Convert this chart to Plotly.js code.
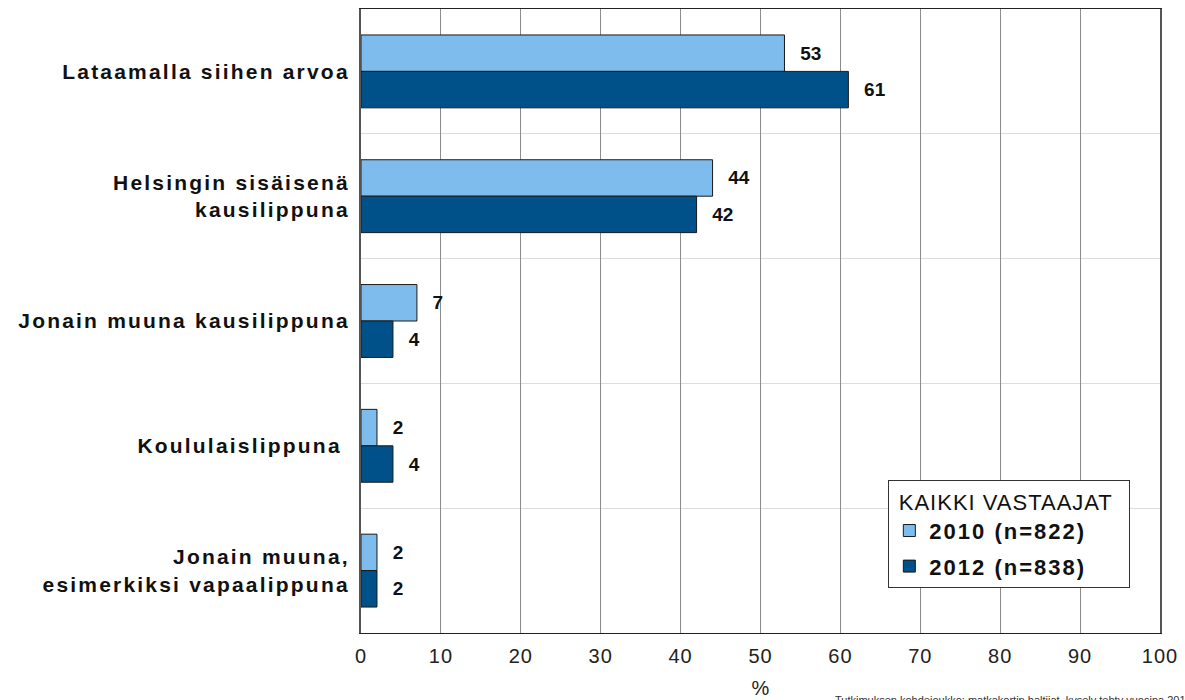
<!DOCTYPE html>
<html>
<head>
<meta charset="utf-8">
<script src="https://cdn.plot.ly/plotly-3.0.1.min.js"></script>
<style>
html,body{margin:0;padding:0;background:#fff;}
#chart{width:1185px;height:700px;}
g.ytick text{letter-spacing:2.2px;}
g.xtick text{letter-spacing:1px;}
text.legendtext{letter-spacing:2px;}
text.legendtitletext{letter-spacing:1px;}
</style>
</head>
<body>
<div id="chart"></div>
<script>
var categories = ["Lataamalla siihen arvoa", "Helsingin sisäisenä<br>kausilippuna", "Jonain muuna kausilippuna", "Koululaislippuna\u00a0", "Jonain muuna,<br>esimerkiksi vapaalippuna"];
var positions = [0, 1, 2, 3, 4];
var values2010 = [53, 44, 7, 2, 2];
var values2012 = [61, 42, 4, 4, 2];
var seriesNames = ["2010 (n=822)", "2012 (n=838)"];
var xTicks = [0, 10, 20, 30, 40, 50, 60, 70, 80, 90, 100];
var legendTitle = "KAIKKI VASTAAJAT";
var footnote = "Tutkimuksen kohdejoukko: matkakortin haltijat, kysely tehty vuosina 2010 ja 2012";

function lbl(arr){ return arr.map(function(v){ return '\u2004\u2004' + v; }); }

var common = {
  type: 'bar', orientation: 'h', y: positions,
  textposition: 'outside', cliponaxis: false,
  textfont: {family: 'Liberation Sans, Arial, sans-serif', size: 19, color: '#111', weight: 'bold'},
  hoverinfo: 'x'
};
var t1 = Object.assign({}, common, {x: values2010, name: seriesNames[0], text: lbl(values2010), legendgroup: 'a',
  marker: {color: '#7FBCEE', line: {color: '#1a1a1a', width: 1}}});
var t2 = Object.assign({}, common, {x: values2012, name: seriesNames[1], text: lbl(values2012), legendgroup: 'b',
  marker: {color: '#00518A', line: {color: '#1a1a1a', width: 1}}});

var layout = {
  width: 1185, height: 700,
  margin: {l: 361, r: 25, t: 9, b: 67},
  paper_bgcolor: '#fff', plot_bgcolor: '#fff',
  barmode: 'group', bargap: 0.416, bargroupgap: 0,
  font: {family: 'Liberation Sans, Arial, sans-serif', color: '#111'},
  showlegend: true,
  legend: {
    x: 0.66, y: 0.245, xanchor: 'left', yanchor: 'top',
    bgcolor: '#fff', bordercolor: '#333', borderwidth: 1,
    title: {text: '\u00a0' + legendTitle + '\u00a0\u00a0', side: 'top center', font: {size: 22, color: '#111', weight: 'normal'}},
    font: {size: 22, color: '#111', weight: 'bold'},
    traceorder: 'grouped', itemwidth: 30, tracegroupgap: 4
  },
  xaxis: {
    range: [0, 100], tickvals: xTicks, ticktext: xTicks.map(String),
    showgrid: true, gridcolor: '#8c8c8c', gridwidth: 1,
    zeroline: false, showline: true, linecolor: '#222', linewidth: 1, mirror: true,
    ticks: 'outside', ticklen: 5, tickcolor: 'rgba(0,0,0,0)',
    tickfont: {size: 20, color: '#222'},
    title: {text: '%', font: {size: 20, color: '#222'}, standoff: 14},
    fixedrange: true
  },
  yaxis: {
    range: [4.5, -0.5], tickvals: positions, ticktext: categories,
    showgrid: false, zeroline: false,
    showline: true, linecolor: '#555', linewidth: 2, mirror: true,
    ticks: 'outside', ticklen: 5, tickcolor: 'rgba(0,0,0,0)',
    tickfont: {size: 21, color: '#111', weight: 'bold'},
    minor: {tickvals: [0.5, 1.5, 2.5, 3.5], showgrid: true, gridcolor: '#dcdcdc', gridwidth: 1, ticks: ''},
    fixedrange: true
  },
  annotations: [{
    xref: 'paper', yref: 'paper', x: 0.591, y: -0.094, xanchor: 'left', yanchor: 'top',
    text: footnote, showarrow: false,
    font: {size: 11, color: '#333'}
  }]
};

Plotly.newPlot('chart', [t1, t2], layout, {displayModeBar: false, staticPlot: true});
</script>
</body>
</html>
